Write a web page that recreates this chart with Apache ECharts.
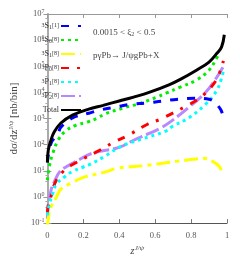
<!DOCTYPE html>
<html><head><meta charset="utf-8">
<script src="https://cdn.jsdelivr.net/npm/echarts@6/dist/echarts.min.js"></script>
<style>html,body{margin:0;padding:0;background:#fff}#c{width:240px;height:262px}</style>
</head><body><div id="c"></div>
<script>
// ---- data ----
var totalZ = [0.0, 0.005, 0.02, 0.037, 0.074, 0.14, 0.23, 0.31, 0.4, 0.48, 0.57, 0.68, 0.74, 0.83, 0.9, 0.945, 0.97, 0.985];
var totalV = [21, 62, 150, 300, 660, 1350, 2300, 3200, 4700, 6600, 10200, 20000, 31600, 71000, 145000, 320000, 550000, 1600000];

var s1Z = [0.0, 0.02, 0.06, 0.075, 0.14, 0.23, 0.29, 0.38, 0.47, 0.55, 0.64, 0.73, 0.82, 0.9, 0.96, 0.98];
var s1V = [21, 112, 275, 470, 1050, 1600, 2100, 2750, 3550, 3900, 4700, 5500, 6000, 5500, 2500, 1100];

var s0Z = [0.0, 0.01, 0.03, 0.06, 0.1, 0.16, 0.22, 0.28, 0.32, 0.42, 0.52, 0.61, 0.66, 0.74, 0.83, 0.9, 0.945, 0.96];
var s0V = [4.4, 14, 47, 150, 330, 560, 720, 1050, 1500, 2500, 3900, 6600, 9300, 16000, 30000, 71000, 220000, 320000];

var s8Z = [0.0, 0.005, 0.02, 0.05, 0.075, 0.13, 0.2, 0.32, 0.39, 0.55, 0.64, 0.72, 0.81, 0.87, 0.92, 0.96, 0.97];
var s8V = [0.076, 0.15, 0.41, 0.98, 2.0, 3.3, 5.6, 8.9, 12.6, 16, 19.5, 23, 27.5, 30, 23, 14, 8.1];

var p0Z = [0.0, 0.005, 0.02, 0.05, 0.1, 0.13, 0.28, 0.32, 0.37, 0.45, 0.56, 0.63, 0.78, 0.86, 0.94, 0.98];
var p0V = [0.25, 0.48, 1.07, 4.4, 11.5, 16, 56, 79, 126, 230, 620, 950, 3200, 7100, 30000, 160000];

var p1Z = [0.0, 0.01, 0.03, 0.05, 0.1, 0.14, 0.2, 0.24, 0.32, 0.41, 0.52, 0.66, 0.69, 0.79, 0.88, 0.94, 0.97, 0.98];
var p1V = [0.2, 0.48, 1.4, 3.1, 6.2, 9.5, 14, 18, 36, 87, 160, 330, 470, 1100, 3500, 11000, 35000, 71000];

var p2Z = [0.0, 0.005, 0.02, 0.04, 0.07, 0.11, 0.16, 0.25, 0.4, 0.48, 0.57, 0.63, 0.69, 0.79, 0.88, 0.94, 0.98];
var p2V = [0.15, 0.48, 1.8, 4.0, 9.5, 15, 23, 47, 79, 148, 275, 430, 800, 2800, 10000, 35000, 100000];

var xTicks = [0, 0.2, 0.4, 0.6, 0.8, 1];
var legendNames = ['3S1[1]', '1S0[8]', '3S1[8]', '3P0[8]', '3P1[8]', '3P2[8]', 'Total'];
var legendLabels = {
  '3S1[1]': '{sup|3}S{sub|1}{sup|[1]}',
  '1S0[8]': '{sup|1}S{sub|0}{sup|[8]}',
  '3S1[8]': '{sup|3}S{sub|1}{sup|[8]}',
  '3P0[8]': '{sup|3}P{sub|0}{sup|[8]}',
  '3P1[8]': '{sup|3}P{sub|1}{sup|[8]}',
  '3P2[8]': '{sup|3}P{sub|2}{sup|[8]}',
  'Total': 'Total'
};

function zip(a, b) { return a.map(function (x, i) { return [x, b[i]]; }); }

var SERIF = '"Liberation Serif","DejaVu Serif",serif';
var richSmall = {
  sup: { fontSize: 6, verticalAlign: 'top', fontFamily: SERIF, color: '#333', padding: [0, 0, 3, 0] },
  sub: { fontSize: 6, verticalAlign: 'bottom', fontFamily: SERIF, color: '#333', padding: [3, 0, 0, 0] }
};

function mk(name, z, v, color, type, width, zl) {
  return {
    name: name, type: 'line', data: zip(z, v), smooth: 0.4, symbol: 'none', showSymbol: false,
    lineStyle: { color: color, width: width, type: type, cap: 'butt' },
    itemStyle: { color: color }, z: zl
  };
}

var chart = echarts.init(document.getElementById('c'), null, { renderer: 'canvas' });
chart.setOption({
  animation: false,
  grid: { left: 36, right: 13, top: 14, bottom: 38, show: false },
  legend: {
    data: legendNames, orient: 'vertical', left: 35, top: 17, align: 'right',
    itemWidth: 20, itemHeight: 8, itemGap: 6,
    itemStyle: { opacity: 0 },
    textStyle: { fontFamily: SERIF, fontSize: 8, color: '#333', rich: richSmall, width: 19, align: 'right', padding: [0, -3, 0, 0], lineHeight: 8 },
    formatter: function (n) { return legendLabels[n]; }
  },
  xAxis: [{
    type: 'value', min: 0, max: 1, interval: 0.2,
    axisLine: { lineStyle: { color: '#555', width: 1 } },
    axisTick: { inside: true, length: 4, lineStyle: { color: '#777' } },
    minorTick: { show: false },
    splitLine: { show: false },
    axisLabel: { fontFamily: SERIF, fontSize: 8.5, color: '#555', margin: 8,
      formatter: function (v) { return xTicks.indexOf(+v.toFixed(1)) >= 0 ? String(+v.toFixed(1)) : ''; } },
    name: '{it|z}{sup|J/ψ}', nameLocation: 'middle', nameGap: 20,
    nameTextStyle: { fontFamily: SERIF, fontSize: 11, color: '#444',
      rich: { it: { fontStyle: 'italic', fontFamily: SERIF, fontSize: 11, color: '#444' },
              sup: { fontSize: 7, fontStyle: 'italic', verticalAlign: 'top', fontFamily: SERIF, color: '#444', padding: [0, 0, 6, 0] } } }
  }, {
    type: 'value', min: 0, max: 1, interval: 0.2, position: 'top',
    axisLine: { show: true, lineStyle: { color: '#999' } },
    axisTick: { inside: true, length: 4, lineStyle: { color: '#999' } },
    axisLabel: { show: false }, splitLine: { show: false }
  }],
  yAxis: [{
    type: 'log', logBase: 10, min: 0.1, max: 1e7,
    axisLine: { show: true, lineStyle: { color: '#999' } },
    axisTick: { inside: true, length: 4, lineStyle: { color: '#999' } },
    splitLine: { show: false },
    axisLabel: { fontFamily: SERIF, fontSize: 8.5, color: '#555', margin: 3,
      formatter: function (v) { var e = Math.round(Math.log10(v)); return '10{sup|' + e + '}'; },
      rich: { sup: { fontSize: 6, verticalAlign: 'top', fontFamily: SERIF, color: '#555', padding: [0, 0, 5, 0] } } },
    name: 'dσ/dz{sup|J/ψ} [nb/bin]', nameLocation: 'middle', nameGap: 25, nameRotate: 90,
    nameTextStyle: { fontFamily: SERIF, fontSize: 11, color: '#444',
      rich: { sup: { fontSize: 7, verticalAlign: 'top', fontFamily: SERIF, color: '#444', padding: [0, 0, 6, 0] } } }
  }, {
    type: 'log', logBase: 10, min: 0.1, max: 1e7, position: 'right',
    axisLine: { show: true, lineStyle: { color: '#aaa', width: 2 } },
    axisTick: { inside: true, length: 4, lineStyle: { color: '#999' } },
    minorTick: { show: true, splitNumber: 3, length: 2, lineStyle: { color: '#aaa' } },
    axisLabel: { show: false }, splitLine: { show: false }
  }],
  graphic: [
    { type: 'text', left: 93, top: 28, style: { text: '0.0015 < ξ{sub|2} < 0.5', fontFamily: SERIF, fontSize: 9, fill: '#444',
        rich: { sub: { fontSize: 6, verticalAlign: 'bottom', fontFamily: SERIF, fill: '#444', padding: [4, 0, 0, 0] } } } },
    { type: 'text', left: 93, top: 51, style: { text: 'pγPb→ J/ψgPb+X', fontFamily: SERIF, fontSize: 9, fill: '#444' } }
  ],
  series: [
    mk('3S1[1]', s1Z, s1V, '#0000ff', [8, 9], 3, 5),
    mk('1S0[8]', s0Z, s0V, '#00ee00', [3, 4], 3, 4),
    mk('3S1[8]', s8Z, s8V, '#ffff00', [14, 5, 4, 5], 3, 4),
    mk('3P2[8]', p2Z, p2V, '#b888ff', [14, 4], 3, 3),
    mk('3P0[8]', p0Z, p0V, '#ff0000', [8, 8, 3, 8], 3, 4),
    mk('3P1[8]', p1Z, p1V, '#00ffff', [3, 4], 3, 4),
    mk('Total', totalZ, totalV, '#000000', 'solid', 3, 6)
  ]
});
</script></body></html>
